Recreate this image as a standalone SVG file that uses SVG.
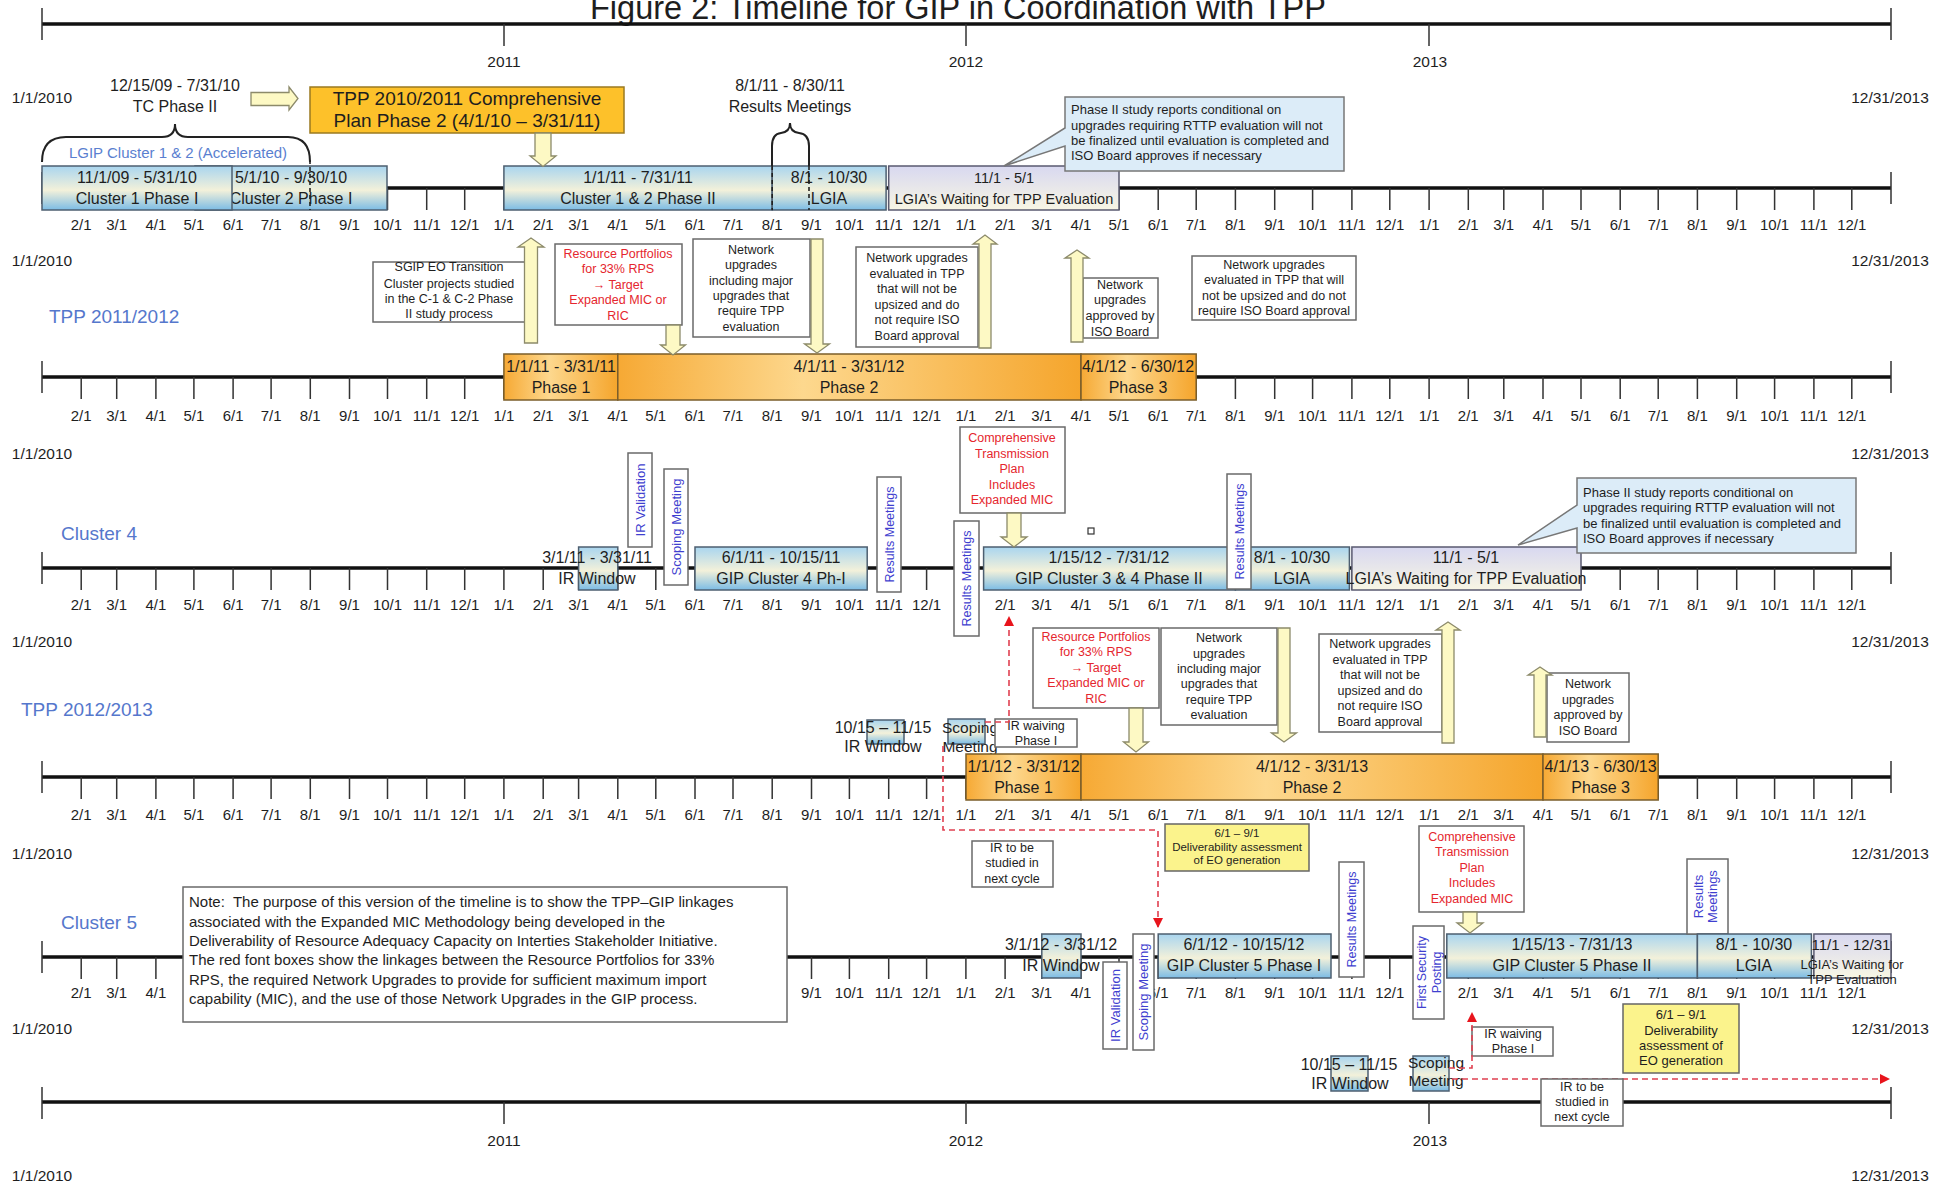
<svg xmlns="http://www.w3.org/2000/svg" width="1951" height="1185" viewBox="0 0 1951 1185">
<style>
text{font-family:"Liberation Sans",Arial,sans-serif;fill:#1e1e1e}
.ax{stroke:#111;stroke-width:3.5;fill:none}
.tk{stroke:#333;stroke-width:1.5;fill:none}
.ml{font-size:15px;text-anchor:middle}
.de{font-size:15.5px;text-anchor:middle}
.lbl{font-size:19px;fill:#5577cc}
.lgip{font-size:15px;text-anchor:middle;fill:#5a7fd0}
.bar{stroke:#4d5f70;stroke-width:1.5}
.ph{fill:url(#go);stroke:#7b5e2a;stroke-width:1.5}
.lav{fill:url(#gl);stroke:#5a5a70;stroke-width:1.5}
.bt{font-size:16px;text-anchor:middle}
.wb{fill:#fff;stroke:#6a6a6a;stroke-width:1.5}
.yb{fill:#fbf38c;stroke:#666;stroke-width:1.5}
.cb{fill:#dcecf8;stroke:#777;stroke-width:1.5}
.st{font-size:12.5px;text-anchor:middle}
.red{fill:#e5262e}
.vt{font-size:13px;text-anchor:middle;fill:#3f3fcf}
.ya{fill:#fdf9c4;stroke:#8c8a6a;stroke-width:1.3}
.rd{fill:none;stroke:#e04050;stroke-width:1.6;stroke-dasharray:6 4}
.dk{fill:none;stroke:#222;stroke-width:1.6;stroke-dasharray:4 3}
.br{fill:none;stroke:#222;stroke-width:2}
</style>
<defs>
<linearGradient id="gb" x1="0" y1="0" x2="0" y2="1"><stop offset="0" stop-color="#a9d5ef"/><stop offset="0.55" stop-color="#f3f1da"/><stop offset="1" stop-color="#7cbce5"/></linearGradient>
<linearGradient id="gl" x1="0" y1="0" x2="0" y2="1"><stop offset="0" stop-color="#d8d8f0"/><stop offset="1" stop-color="#f8f6e4"/></linearGradient>
<linearGradient id="go" x1="0" y1="0" x2="1" y2="0"><stop offset="0" stop-color="#f6a934"/><stop offset="0.4" stop-color="#fdd88e"/><stop offset="1" stop-color="#f5a52c"/></linearGradient>
<marker id="ra" viewBox="0 0 10 10" refX="10" refY="5" markerWidth="10" markerHeight="10" markerUnits="userSpaceOnUse" orient="auto"><path d="M0 0L10 5L0 10Z" fill="#e8141c"/></marker>
<path id="mt" class="tk" d="M81.2 0v22M116.7 0v22M155.9 0v22M193.9 0v22M233.1 0v22M271.1 0v22M310.3 0v22M349.5 0v22M387.5 0v22M426.7 0v22M464.7 0v22M503.9 0v22M543.2 0v22M578.6 0v22M617.8 0v22M655.8 0v22M695 0v22M733 0v22M772.2 0v22M811.5 0v22M849.4 0v22M888.7 0v22M926.6 0v22M965.9 0v22M1005.1 0v22M1041.8 0v22M1081 0v22M1119 0v22M1158.2 0v22M1196.2 0v22M1235.4 0v22M1274.7 0v22M1312.6 0v22M1351.9 0v22M1389.8 0v22M1429.1 0v22M1468.3 0v22M1503.8 0v22M1543 0v22M1581 0v22M1620.2 0v22M1658.2 0v22M1697.4 0v22M1736.7 0v22M1774.6 0v22M1813.9 0v22M1851.8 0v22"/>
</defs>
<rect width="1951" height="1185" fill="#fff"/>

<g id="axes">
<text x="590" y="19" font-size="32.5">Figure 2:  Timeline for GIP in Coordination with TPP</text>
<path class="ax" d="M42 24H1891M42 188H1891M42 377H1891M42 568H1891M42 777H1891M42 957H1891M42 1102H1891"/>
<path class="tk" d="M42 8V40M1891 8V40M504 24V46M966 24V46M1429 24V46M42 172V204M1891 172V204M42 361V393M1891 361V393M42 552V584M1891 552V584M42 761V793M1891 761V793M42 941V973M1891 941V973M42 1087V1119M1891 1087V1119M504 1102V1124M966 1102V1124M1429 1102V1124"/>
<use href="#mt" y="188"/>
<use href="#mt" y="377"/>
<use href="#mt" y="568"/>
<use href="#mt" y="777"/>
<use href="#mt" y="957"/>
<text class="de" y="66.5"><tspan x="504">2011</tspan><tspan x="966">2012</tspan><tspan x="1430">2013</tspan></text>
<text class="de" y="1145.5"><tspan x="504">2011</tspan><tspan x="966">2012</tspan><tspan x="1430">2013</tspan></text>
<text class="de"><tspan x="42" y="102.5">1/1/2010</tspan><tspan x="42" y="265.5">1/1/2010</tspan><tspan x="42" y="458.5">1/1/2010</tspan><tspan x="42" y="646.5">1/1/2010</tspan><tspan x="42" y="858.5">1/1/2010</tspan><tspan x="42" y="1033.5">1/1/2010</tspan><tspan x="42" y="1180.5">1/1/2010</tspan></text>
<text class="de"><tspan x="1890" y="102.5">12/31/2013</tspan><tspan x="1890" y="265.5">12/31/2013</tspan><tspan x="1890" y="458.5">12/31/2013</tspan><tspan x="1890" y="646.5">12/31/2013</tspan><tspan x="1890" y="858.5">12/31/2013</tspan><tspan x="1890" y="1033.5">12/31/2013</tspan><tspan x="1890" y="1180.5">12/31/2013</tspan></text>
<text class="ml" y="230.4"><tspan x="81.2">2/1</tspan><tspan x="116.7">3/1</tspan><tspan x="155.9">4/1</tspan><tspan x="193.9">5/1</tspan><tspan x="233.1">6/1</tspan><tspan x="271.1">7/1</tspan><tspan x="310.3">8/1</tspan><tspan x="349.5">9/1</tspan><tspan x="387.5">10/1</tspan><tspan x="426.7">11/1</tspan><tspan x="464.7">12/1</tspan><tspan x="503.9">1/1</tspan><tspan x="543.2">2/1</tspan><tspan x="578.6">3/1</tspan><tspan x="617.8">4/1</tspan><tspan x="655.8">5/1</tspan><tspan x="695">6/1</tspan><tspan x="733">7/1</tspan><tspan x="772.2">8/1</tspan><tspan x="811.5">9/1</tspan><tspan x="849.4">10/1</tspan><tspan x="888.7">11/1</tspan><tspan x="926.6">12/1</tspan><tspan x="965.9">1/1</tspan><tspan x="1005.1">2/1</tspan><tspan x="1041.8">3/1</tspan><tspan x="1081">4/1</tspan><tspan x="1119">5/1</tspan><tspan x="1158.2">6/1</tspan><tspan x="1196.2">7/1</tspan><tspan x="1235.4">8/1</tspan><tspan x="1274.7">9/1</tspan><tspan x="1312.6">10/1</tspan><tspan x="1351.9">11/1</tspan><tspan x="1389.8">12/1</tspan><tspan x="1429.1">1/1</tspan><tspan x="1468.3">2/1</tspan><tspan x="1503.8">3/1</tspan><tspan x="1543">4/1</tspan><tspan x="1581">5/1</tspan><tspan x="1620.2">6/1</tspan><tspan x="1658.2">7/1</tspan><tspan x="1697.4">8/1</tspan><tspan x="1736.7">9/1</tspan><tspan x="1774.6">10/1</tspan><tspan x="1813.9">11/1</tspan><tspan x="1851.8">12/1</tspan></text>
<text class="ml" y="421.4"><tspan x="81.2">2/1</tspan><tspan x="116.7">3/1</tspan><tspan x="155.9">4/1</tspan><tspan x="193.9">5/1</tspan><tspan x="233.1">6/1</tspan><tspan x="271.1">7/1</tspan><tspan x="310.3">8/1</tspan><tspan x="349.5">9/1</tspan><tspan x="387.5">10/1</tspan><tspan x="426.7">11/1</tspan><tspan x="464.7">12/1</tspan><tspan x="503.9">1/1</tspan><tspan x="543.2">2/1</tspan><tspan x="578.6">3/1</tspan><tspan x="617.8">4/1</tspan><tspan x="655.8">5/1</tspan><tspan x="695">6/1</tspan><tspan x="733">7/1</tspan><tspan x="772.2">8/1</tspan><tspan x="811.5">9/1</tspan><tspan x="849.4">10/1</tspan><tspan x="888.7">11/1</tspan><tspan x="926.6">12/1</tspan><tspan x="965.9">1/1</tspan><tspan x="1005.1">2/1</tspan><tspan x="1041.8">3/1</tspan><tspan x="1081">4/1</tspan><tspan x="1119">5/1</tspan><tspan x="1158.2">6/1</tspan><tspan x="1196.2">7/1</tspan><tspan x="1235.4">8/1</tspan><tspan x="1274.7">9/1</tspan><tspan x="1312.6">10/1</tspan><tspan x="1351.9">11/1</tspan><tspan x="1389.8">12/1</tspan><tspan x="1429.1">1/1</tspan><tspan x="1468.3">2/1</tspan><tspan x="1503.8">3/1</tspan><tspan x="1543">4/1</tspan><tspan x="1581">5/1</tspan><tspan x="1620.2">6/1</tspan><tspan x="1658.2">7/1</tspan><tspan x="1697.4">8/1</tspan><tspan x="1736.7">9/1</tspan><tspan x="1774.6">10/1</tspan><tspan x="1813.9">11/1</tspan><tspan x="1851.8">12/1</tspan></text>
<text class="ml" y="610.4"><tspan x="81.2">2/1</tspan><tspan x="116.7">3/1</tspan><tspan x="155.9">4/1</tspan><tspan x="193.9">5/1</tspan><tspan x="233.1">6/1</tspan><tspan x="271.1">7/1</tspan><tspan x="310.3">8/1</tspan><tspan x="349.5">9/1</tspan><tspan x="387.5">10/1</tspan><tspan x="426.7">11/1</tspan><tspan x="464.7">12/1</tspan><tspan x="503.9">1/1</tspan><tspan x="543.2">2/1</tspan><tspan x="578.6">3/1</tspan><tspan x="617.8">4/1</tspan><tspan x="655.8">5/1</tspan><tspan x="695">6/1</tspan><tspan x="733">7/1</tspan><tspan x="772.2">8/1</tspan><tspan x="811.5">9/1</tspan><tspan x="849.4">10/1</tspan><tspan x="888.7">11/1</tspan><tspan x="926.6">12/1</tspan><tspan x="1005.1">2/1</tspan><tspan x="1041.8">3/1</tspan><tspan x="1081">4/1</tspan><tspan x="1119">5/1</tspan><tspan x="1158.2">6/1</tspan><tspan x="1196.2">7/1</tspan><tspan x="1235.4">8/1</tspan><tspan x="1274.7">9/1</tspan><tspan x="1312.6">10/1</tspan><tspan x="1351.9">11/1</tspan><tspan x="1389.8">12/1</tspan><tspan x="1429.1">1/1</tspan><tspan x="1468.3">2/1</tspan><tspan x="1503.8">3/1</tspan><tspan x="1543">4/1</tspan><tspan x="1581">5/1</tspan><tspan x="1620.2">6/1</tspan><tspan x="1658.2">7/1</tspan><tspan x="1697.4">8/1</tspan><tspan x="1736.7">9/1</tspan><tspan x="1774.6">10/1</tspan><tspan x="1813.9">11/1</tspan><tspan x="1851.8">12/1</tspan></text>
<text class="ml" y="820.4"><tspan x="81.2">2/1</tspan><tspan x="116.7">3/1</tspan><tspan x="155.9">4/1</tspan><tspan x="193.9">5/1</tspan><tspan x="233.1">6/1</tspan><tspan x="271.1">7/1</tspan><tspan x="310.3">8/1</tspan><tspan x="349.5">9/1</tspan><tspan x="387.5">10/1</tspan><tspan x="426.7">11/1</tspan><tspan x="464.7">12/1</tspan><tspan x="503.9">1/1</tspan><tspan x="543.2">2/1</tspan><tspan x="578.6">3/1</tspan><tspan x="617.8">4/1</tspan><tspan x="655.8">5/1</tspan><tspan x="695">6/1</tspan><tspan x="733">7/1</tspan><tspan x="772.2">8/1</tspan><tspan x="811.5">9/1</tspan><tspan x="849.4">10/1</tspan><tspan x="888.7">11/1</tspan><tspan x="926.6">12/1</tspan><tspan x="965.9">1/1</tspan><tspan x="1005.1">2/1</tspan><tspan x="1041.8">3/1</tspan><tspan x="1081">4/1</tspan><tspan x="1119">5/1</tspan><tspan x="1158.2">6/1</tspan><tspan x="1196.2">7/1</tspan><tspan x="1235.4">8/1</tspan><tspan x="1274.7">9/1</tspan><tspan x="1312.6">10/1</tspan><tspan x="1351.9">11/1</tspan><tspan x="1389.8">12/1</tspan><tspan x="1429.1">1/1</tspan><tspan x="1468.3">2/1</tspan><tspan x="1503.8">3/1</tspan><tspan x="1543">4/1</tspan><tspan x="1581">5/1</tspan><tspan x="1620.2">6/1</tspan><tspan x="1658.2">7/1</tspan><tspan x="1697.4">8/1</tspan><tspan x="1736.7">9/1</tspan><tspan x="1774.6">10/1</tspan><tspan x="1813.9">11/1</tspan><tspan x="1851.8">12/1</tspan></text>
<text class="ml" y="998.4"><tspan x="81.2">2/1</tspan><tspan x="116.7">3/1</tspan><tspan x="155.9">4/1</tspan><tspan x="811.5">9/1</tspan><tspan x="849.4">10/1</tspan><tspan x="888.7">11/1</tspan><tspan x="926.6">12/1</tspan><tspan x="965.9">1/1</tspan><tspan x="1005.1">2/1</tspan><tspan x="1041.8">3/1</tspan><tspan x="1081">4/1</tspan><tspan x="1158.2">6/1</tspan><tspan x="1196.2">7/1</tspan><tspan x="1235.4">8/1</tspan><tspan x="1274.7">9/1</tspan><tspan x="1312.6">10/1</tspan><tspan x="1351.9">11/1</tspan><tspan x="1389.8">12/1</tspan><tspan x="1468.3">2/1</tspan><tspan x="1503.8">3/1</tspan><tspan x="1543">4/1</tspan><tspan x="1581">5/1</tspan><tspan x="1620.2">6/1</tspan><tspan x="1658.2">7/1</tspan><tspan x="1697.4">8/1</tspan><tspan x="1736.7">9/1</tspan><tspan x="1774.6">10/1</tspan><tspan x="1813.9">11/1</tspan><tspan x="1851.8">12/1</tspan></text>
<text class="lbl" x="49" y="323">TPP 2011/2012</text>
<text class="lbl" x="61" y="540">Cluster 4</text>
<text class="lbl" x="21" y="716">TPP 2012/2013</text>
<text class="lbl" x="61" y="929">Cluster 5</text>
</g>

<g id="row1-labels">
<text class="bt"><tspan x="175" y="90.7">12/15/09 - 7/31/10</tspan><tspan x="175" y="111.7">TC Phase II</tspan></text>
<text class="bt"><tspan x="790" y="90.7">8/1/11 - 8/30/11</tspan><tspan x="790" y="111.7">Results Meetings</tspan></text>
<text class="lgip" x="178" y="157.5">LGIP Cluster 1 &amp; 2 (Accelerated)</text>
</g>

<g id="tpp1011">
<rect x="310" y="87" width="314" height="46" fill="#fdc12a" stroke="#9a7a20" stroke-width="1.5"/>
<text font-size="19" text-anchor="middle"><tspan x="467" y="104.8">TPP 2010/2011 Comprehensive</tspan><tspan x="467" y="126.8">Plan Phase 2 (4/1/10 – 3/31/11)</tspan></text>
</g>

<g id="c2p1"><rect class="bar" x="195" y="166" width="192" height="44" fill="url(#gb)"/><text class="bt"><tspan x="291" y="183">5/1/10 - 9/30/10</tspan><tspan x="291" y="204">Cluster 2 Phase I</tspan></text></g>
<g id="c1p1"><rect class="bar" x="42" y="166" width="190" height="44" fill="url(#gb)"/><text class="bt"><tspan x="137" y="183">11/1/09 - 5/31/10</tspan><tspan x="137" y="204">Cluster 1 Phase I</tspan></text></g>
<g id="c12p2"><rect class="bar" x="503.9" y="166" width="268.3" height="44" fill="url(#gb)"/><text class="bt"><tspan x="638" y="183">1/1/11 - 7/31/11</tspan><tspan x="638" y="204">Cluster 1 &amp; 2 Phase II</tspan></text></g>
<g id="lgia1"><rect class="bar" x="772.2" y="166" width="113.9" height="44" fill="url(#gb)"/><text class="bt"><tspan x="829" y="183">8/1 - 10/30</tspan><tspan x="829" y="204">LGIA</tspan></text></g>
<g id="wait1"><rect class="lav" x="888.7" y="166" width="230.3" height="44"/><text class="bt" style="font-size:14.5px"><tspan x="1004" y="183">11/1 - 5/1</tspan><tspan x="1004" y="204">LGIA’s Waiting for TPP Evaluation</tspan></text></g>
<g id="callout1"><path class="cb" d="M1065 97H1344V171H1065V146L1004 166L1065 128Z"/><text font-size="13"><tspan x="1071" y="114">Phase II study reports conditional on</tspan><tspan x="1071" y="129.6">upgrades requiring RTTP evaluation will not</tspan><tspan x="1071" y="144.6">be finalized until evaluation is completed and</tspan><tspan x="1071" y="160">ISO Board approves if necessary</tspan></text></g>

<g id="sgip"><rect class="wb" x="373" y="262" width="152" height="60"/><text class="st"><tspan x="449" y="271.2">SGIP EO Transition</tspan><tspan x="449" y="287.8">Cluster projects studied</tspan><tspan x="449" y="302.8">in the C-1 &amp; C-2 Phase</tspan><tspan x="449" y="317.8">II study process</tspan></text></g>
<g id="rp1"><rect class="wb" x="555" y="244" width="127" height="81"/><text class="st red"><tspan x="618" y="257.5">Resource Portfolios</tspan><tspan x="618" y="272.5">for 33% RPS</tspan><tspan x="618" y="288.5">→ Target</tspan><tspan x="618" y="303.5">Expanded MIC or</tspan><tspan x="618" y="319.5">RIC</tspan></text></g>
<g id="nu1"><rect class="wb" x="693" y="239" width="117" height="98"/><text class="st"><tspan x="751" y="253.5">Network</tspan><tspan x="751" y="268.5">upgrades</tspan><tspan x="751" y="284.5">including major</tspan><tspan x="751" y="299.5">upgrades that</tspan><tspan x="751" y="314.5">require TPP</tspan><tspan x="751" y="330.5">evaluation</tspan></text></g>
<g id="ev1"><rect class="wb" x="856" y="247" width="122" height="100"/><text class="st"><tspan x="917" y="261.5">Network upgrades</tspan><tspan x="917" y="277.5">evaluated in TPP</tspan><tspan x="917" y="292.5">that will not be</tspan><tspan x="917" y="308.5">upsized and do</tspan><tspan x="917" y="323.5">not require ISO</tspan><tspan x="917" y="339.5">Board approval</tspan></text></g>
<g id="ap1"><rect class="wb" x="1083" y="278" width="75" height="60"/><text class="st"><tspan x="1120" y="288.5">Network</tspan><tspan x="1120" y="303.5">upgrades</tspan><tspan x="1120" y="319.5">approved by</tspan><tspan x="1120" y="335.5">ISO Board</tspan></text></g>
<g id="ev1b"><rect class="wb" x="1192" y="256" width="164" height="64"/><text class="st"><tspan x="1274" y="268.5">Network upgrades</tspan><tspan x="1274" y="283.5">evaluated in TPP that will</tspan><tspan x="1274" y="299.5">not be upsized and do not</tspan><tspan x="1274" y="314.5">require ISO Board approval</tspan></text></g>

<g id="tpp1112-p1"><rect class="ph" x="503.9" y="354" width="113.9" height="46"/><text class="bt"><tspan x="561" y="372">1/1/11 - 3/31/11</tspan><tspan x="561" y="393">Phase 1</tspan></text></g>
<g id="tpp1112-p2"><rect class="ph" x="617.8" y="354" width="463.2" height="46"/><text class="bt"><tspan x="849" y="372">4/1/11 - 3/31/12</tspan><tspan x="849" y="393">Phase 2</tspan></text></g>
<g id="tpp1112-p3"><rect class="ph" x="1081" y="354" width="115.2" height="46"/><text class="bt"><tspan x="1138" y="372">4/1/12 - 6/30/12</tspan><tspan x="1138" y="393">Phase 3</tspan></text></g>

<g id="c4-irw"><rect class="bar" x="578.6" y="547" width="39.2" height="43" fill="url(#gb)"/><text class="bt"><tspan x="597" y="563">3/1/11 - 3/31/11</tspan><tspan x="597" y="584">IR Window</tspan></text></g>
<g id="c4-irv"><rect class="wb" x="628" y="453" width="24" height="94"/><text class="vt" transform="translate(640 500) rotate(-90)" y="4.6">IR Validation</text></g>
<g id="c4-scope"><rect class="wb" x="664" y="469" width="24" height="116"/><text class="vt" transform="translate(676 527) rotate(-90)" y="4.6">Scoping Meeting</text></g>
<g id="c4-p1"><rect class="bar" x="695" y="547" width="172.2" height="43" fill="url(#gb)"/><text class="bt"><tspan x="781" y="563">6/1/11 - 10/15/11</tspan><tspan x="781" y="584">GIP Cluster 4 Ph-I</tspan></text></g>
<g id="c4-rm1"><rect class="wb" x="877" y="477" width="24" height="115"/><text class="vt" style="font-size:12.5px" transform="translate(889 534.5) rotate(-90)" y="4.5">Results Meetings</text></g>
<g id="c4-rm2"><rect class="wb" x="954" y="521" width="25" height="115"/><text class="vt" style="font-size:12.5px" transform="translate(966.5 578.5) rotate(-90)" y="4.5">Results Meetings</text></g>
<g id="ctp1"><rect class="wb" x="960" y="427" width="105" height="86"/><text class="st red"><tspan x="1012" y="442.2">Comprehensive</tspan><tspan x="1012" y="457.8">Transmission</tspan><tspan x="1012" y="473.2">Plan</tspan><tspan x="1012" y="488.5">Includes</tspan><tspan x="1012" y="503.8">Expanded MIC</tspan></text></g>
<g id="sq"><rect x="1088" y="528" width="6" height="6" fill="#fff" stroke="#333" stroke-width="1.2"/></g>
<g id="c34-p2"><rect class="bar" x="983.6" y="547" width="251.8" height="43" fill="url(#gb)"/><text class="bt"><tspan x="1109" y="563">1/15/12 - 7/31/12</tspan><tspan x="1109" y="584">GIP Cluster 3 &amp; 4 Phase II</tspan></text></g>
<g id="c4-lgia"><rect class="bar" x="1235.4" y="547" width="114" height="43" fill="url(#gb)"/><text class="bt"><tspan x="1292" y="563">8/1 - 10/30</tspan><tspan x="1292" y="584">LGIA</tspan></text></g>
<g id="c4-rm3"><rect class="wb" x="1227" y="474" width="24" height="115"/><text class="vt" style="font-size:12.5px" transform="translate(1239 531.5) rotate(-90)" y="4.5">Results Meetings</text></g>
<g id="c4-wait"><rect class="lav" x="1351.9" y="547" width="229.1" height="43"/><text class="bt"><tspan x="1466" y="563">11/1 - 5/1</tspan><tspan x="1466" y="584">LGIA’s Waiting for TPP Evaluation</tspan></text></g>
<g id="callout2"><path class="cb" d="M1577 478H1856V553H1577V528L1518 545L1577 505Z"/><text font-size="13"><tspan x="1583" y="496.6">Phase II study reports conditional on</tspan><tspan x="1583" y="511.6">upgrades requiring RTTP evaluation will not</tspan><tspan x="1583" y="527.6">be finalized until evaluation is completed and</tspan><tspan x="1583" y="542.6">ISO Board approves if necessary</tspan></text></g>

<g id="rp2"><rect class="wb" x="1033" y="628" width="126" height="80"/><text class="st red"><tspan x="1096" y="640.5">Resource Portfolios</tspan><tspan x="1096" y="656.2">for 33% RPS</tspan><tspan x="1096" y="671.8">→ Target</tspan><tspan x="1096" y="687.2">Expanded MIC or</tspan><tspan x="1096" y="702.5">RIC</tspan></text></g>
<g id="nu2"><rect class="wb" x="1161" y="628" width="116" height="97"/><text class="st"><tspan x="1219" y="642.2">Network</tspan><tspan x="1219" y="657.8">upgrades</tspan><tspan x="1219" y="672.8">including major</tspan><tspan x="1219" y="687.8">upgrades that</tspan><tspan x="1219" y="703.8">require TPP</tspan><tspan x="1219" y="718.8">evaluation</tspan></text></g>
<g id="ev2"><rect class="wb" x="1319" y="634" width="123" height="98"/><text class="st"><tspan x="1380" y="647.8">Network upgrades</tspan><tspan x="1380" y="663.5">evaluated in TPP</tspan><tspan x="1380" y="678.8">that will not be</tspan><tspan x="1380" y="694.5">upsized and do</tspan><tspan x="1380" y="709.8">not require ISO</tspan><tspan x="1380" y="725.5">Board approval</tspan></text></g>
<g id="ap2"><rect class="wb" x="1547" y="673" width="82" height="69"/><text class="st"><tspan x="1588" y="687.8">Network</tspan><tspan x="1588" y="703.8">upgrades</tspan><tspan x="1588" y="718.8">approved by</tspan><tspan x="1588" y="734.5">ISO Board</tspan></text></g>
<g id="t4-irw"><rect class="bar" x="867" y="720" width="37" height="24" fill="url(#gb)"/><text class="bt"><tspan x="883" y="732.7">10/15 – 11/15</tspan><tspan x="883" y="751.7">IR Window</tspan></text></g>
<g id="t4-scope"><rect class="bar" x="948" y="719" width="37" height="25" fill="url(#gb)"/><text class="bt" style="font-size:15.5px"><tspan x="970" y="733">Scoping</tspan><tspan x="970" y="752">Meeting</tspan></text></g>
<g id="irw1"><rect class="wb" x="995" y="719" width="82" height="28"/><text class="st"><tspan x="1036" y="729.5">IR waiving</tspan><tspan x="1036" y="744.5">Phase I</tspan></text></g>
<g id="tpp1213-p1"><rect class="ph" x="966" y="754" width="115" height="46"/><text class="bt"><tspan x="1023.5" y="772">1/1/12 - 3/31/12</tspan><tspan x="1023.5" y="793">Phase 1</tspan></text></g>
<g id="tpp1213-p2"><rect class="ph" x="1081" y="754" width="462" height="46"/><text class="bt"><tspan x="1312" y="772">4/1/12 - 3/31/13</tspan><tspan x="1312" y="793">Phase 2</tspan></text></g>
<g id="tpp1213-p3"><rect class="ph" x="1543" y="754" width="115.2" height="46"/><text class="bt"><tspan x="1600.6" y="772">4/1/13 - 6/30/13</tspan><tspan x="1600.6" y="793">Phase 3</tspan></text></g>

<g id="next1"><rect class="wb" x="972" y="841" width="81" height="46"/><text class="st"><tspan x="1012" y="851.8">IR to be</tspan><tspan x="1012" y="867.2">studied in</tspan><tspan x="1012" y="882.8">next cycle</tspan></text></g>
<g id="del1"><rect class="yb" x="1165" y="824" width="144" height="47"/><text font-size="11.5" text-anchor="middle"><tspan x="1237" y="837.4">6/1 – 9/1</tspan><tspan x="1237" y="850.8">Deliverability assessment</tspan><tspan x="1237" y="864.1">of EO generation</tspan></text></g>

<g id="note"><rect class="wb" x="183" y="887" width="604" height="135"/><text font-size="15"><tspan x="189" y="907.4">Note:&#160; The purpose of this version of the timeline is to show the TPP–GIP linkages</tspan><tspan x="189" y="927.4">associated with the Expanded MIC Methodology being developed in the</tspan><tspan x="189" y="946.4">Deliverability of Resource Adequacy Capacity on Interties Stakeholder Initiative.</tspan><tspan x="189" y="965.4">The red font boxes show the linkages between the Resource Portfolios for 33%</tspan><tspan x="189" y="985.4">RPS, the required Network Upgrades to provide for sufficient maximum import</tspan><tspan x="189" y="1004.4">capability (MIC), and the use of those Network Upgrades in the GIP process.</tspan></text></g>
<g id="c5-irw"><rect class="bar" x="1041.8" y="934" width="39.2" height="44" fill="url(#gb)"/><text class="bt"><tspan x="1061" y="950">3/1/12 - 3/31/12</tspan><tspan x="1061" y="971">IR Window</tspan></text></g>
<g id="c5-irv"><rect class="wb" x="1103" y="962" width="24" height="87"/><text class="vt" transform="translate(1115 1005.5) rotate(-90)" y="4.6">IR Validation</text></g>
<g id="c5-scope"><rect class="wb" x="1133" y="934" width="21" height="116"/><text class="vt" transform="translate(1143.5 992) rotate(-90)" y="4.6">Scoping Meeting</text></g>
<g id="c5-p1"><rect class="bar" x="1158.2" y="934" width="172.8" height="44" fill="url(#gb)"/><text class="bt"><tspan x="1244" y="950">6/1/12 - 10/15/12</tspan><tspan x="1244" y="971">GIP Cluster 5 Phase I</tspan></text></g>
<g id="c5-rm1"><rect class="wb" x="1339" y="862" width="25" height="115"/><text class="vt" style="font-size:12.5px" transform="translate(1351.5 919.5) rotate(-90)" y="4.5">Results Meetings</text></g>
<g id="ctp2"><rect class="wb" x="1419" y="826" width="105" height="86"/><text class="st red"><tspan x="1472" y="841.2">Comprehensive</tspan><tspan x="1472" y="856.2">Transmission</tspan><tspan x="1472" y="871.8">Plan</tspan><tspan x="1472" y="887.2">Includes</tspan><tspan x="1472" y="902.8">Expanded MIC</tspan></text></g>
<g id="c5-fsp"><rect class="wb" x="1413" y="926" width="31" height="93"/><text class="vt" style="font-size:12.5px" transform="translate(1428.5 972.5) rotate(-90)"><tspan x="0" y="-3">First Security</tspan><tspan x="0" y="12">Posting</tspan></text></g>
<g id="c5-p2"><rect class="bar" x="1446.8" y="934" width="250.6" height="44" fill="url(#gb)"/><text class="bt"><tspan x="1572" y="950">1/15/13 - 7/31/13</tspan><tspan x="1572" y="971">GIP Cluster 5 Phase II</tspan></text></g>
<g id="c5-rm2"><rect class="wb" x="1687" y="859" width="41" height="75"/><text class="vt" transform="translate(1707.5 896.5) rotate(-90)"><tspan x="0" y="-5">Results</tspan><tspan x="0" y="9">Meetings</tspan></text></g>
<g id="c5-lgia"><rect class="bar" x="1697.4" y="934" width="114" height="44" fill="url(#gb)"/><text class="bt"><tspan x="1754" y="950">8/1 - 10/30</tspan><tspan x="1754" y="971">LGIA</tspan></text></g>
<g id="c5-wait"><rect class="lav" x="1813.9" y="934" width="77.1" height="44"/><text text-anchor="middle"><tspan x="1851" y="949.5" font-size="15">11/1 - 12/31</tspan><tspan x="1852" y="968.6" font-size="13">LGIA’s Waiting for</tspan><tspan x="1852" y="983.6" font-size="13">TPP Evaluation</tspan></text></g>
<g id="irw2"><rect class="wb" x="1472" y="1027" width="81" height="29"/><text class="st"><tspan x="1513" y="1037.8">IR waiving</tspan><tspan x="1513" y="1052.8">Phase I</tspan></text></g>
<g id="del2"><rect class="yb" x="1623" y="1004" width="116" height="69"/><text font-size="13" text-anchor="middle"><tspan x="1681" y="1019">6/1 – 9/1</tspan><tspan x="1681" y="1034.7">Deliverability</tspan><tspan x="1681" y="1049.7">assessment of</tspan><tspan x="1681" y="1065.4">EO generation</tspan></text></g>
<g id="c6-irw"><rect class="bar" x="1331" y="1056" width="37" height="35" fill="url(#gb)"/><text class="bt"><tspan x="1349" y="1069.7">10/15 – 11/15</tspan><tspan x="1350" y="1088.7">IR Window</tspan></text></g>
<g id="c6-scope"><rect class="bar" x="1413" y="1056" width="36" height="35" fill="url(#gb)"/><text class="bt" style="font-size:15.5px"><tspan x="1436" y="1067.7">Scoping</tspan><tspan x="1436" y="1085.7">Meeting</tspan></text></g>

<g id="connectors">
<path class="br" d="M42 162Q42 137 66 137H162Q175 137 175 124Q175 137 188 137H288Q310 137 310 162"/>
<path class="br" d="M772 166V146Q772 134 781 133Q790 132 790 123Q790 132 799 133Q809 134 809 146V166"/>
<path class="dk" d="M310 160V210M772.2 166V210M809 166V210"/>
<path class="ya" d="M251 92.5H289V87L298 98.5L289 110V105.5H251Z"/>
<path class="ya" d="M535 133H551V156H556L543 166.5L530 156H535Z"/>
<path class="ya" d="M524.5 343V247H518L531 238L544 247H537.5V343Z"/>
<path class="ya" d="M666 325H680V345H685.5L673 355L660.5 345H666Z"/>
<path class="ya" d="M811 239H823V344H829.5L817 353L804.5 344H811Z"/>
<path class="ya" d="M979 348V244H973L985 235L997 244H991V348Z"/>
<path class="ya" d="M1071 342V258H1065L1077 250L1089 258H1083V342Z"/>
<path class="ya" d="M1007 513H1021V537H1027L1014 547L1001 537H1007Z"/>
<path class="ya" d="M1129 708H1143V742H1148.5L1136 752L1123.5 742H1129Z"/>
<path class="ya" d="M1278 628H1290V733H1296.5L1284 742L1271.5 733H1278Z"/>
<path class="ya" d="M1442 743V630H1436L1448 622L1460 630H1454V743Z"/>
<path class="ya" d="M1534 737V675H1528L1540 667L1552 675H1546V737Z"/>
<path class="ya" d="M1463 912H1477V923H1483L1470 933L1457 923H1463Z"/>
<path class="rd" d="M985 722H1009V616" marker-end="url(#ra)"/>
<path class="rd" d="M943 746V830H1158V928" marker-end="url(#ra)"/>
<path class="rd" d="M1449 1068H1472V1012" marker-end="url(#ra)"/>
<path class="rd" d="M1452 1079H1890" marker-end="url(#ra)"/>
</g>
<g id="next2"><rect class="wb" x="1541" y="1079" width="82" height="47"/><text class="st"><tspan x="1582" y="1090.5">IR to be</tspan><tspan x="1582" y="1105.5">studied in</tspan><tspan x="1582" y="1121.2">next cycle</tspan></text></g>
</svg>
